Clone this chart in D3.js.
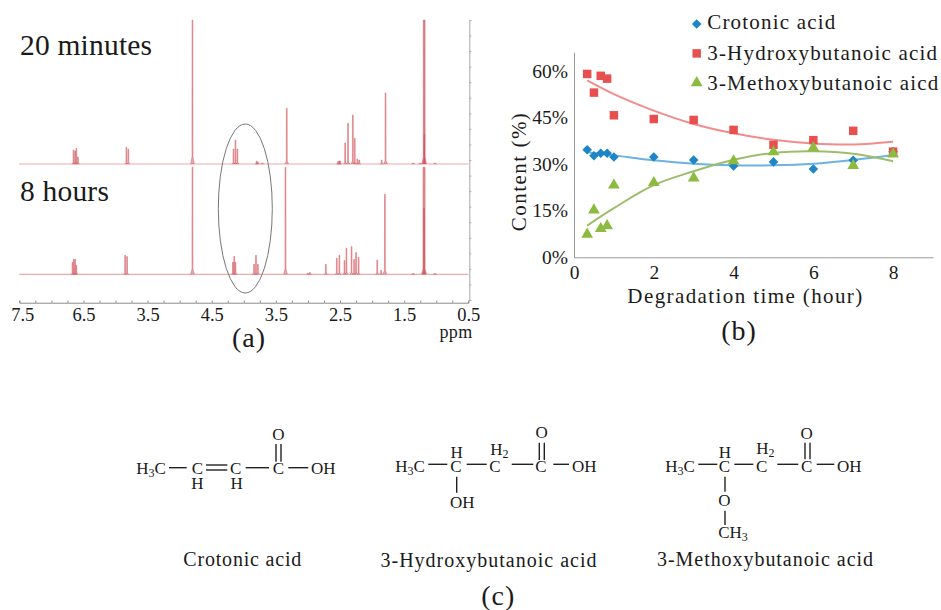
<!DOCTYPE html>
<html>
<head>
<meta charset="utf-8">
<script src="https://cdn.jsdelivr.net/npm/d3@7"></script>
<style>
  html, body { margin: 0; padding: 0; background: #fff; }
  text { font-family: "Liberation Serif", serif; fill: #1a1a1a; }
</style>
</head>
<body>
<div id="chart"></div>
<script>
// (a) NMR peaks: [ppm, height]
var peaksTop = [[6.655,14],[6.63,13],[6.61,15.7],[6.585,7],[5.83,16.7],[5.80,14.7],[4.80,144],
    [4.16,15],[4.13,24],[4.10,15],[3.80,3],[3.78,2],[3.71,1],[3.33,55.7],[2.53,2.5],[2.51,3],[2.50,3],
    [2.42,21],[2.375,40.7],[2.30,49],[2.27,25.7],[2.23,5],[2.20,4],[1.85,4],[1.79,71],
    [1.36,1],[1.25,1],[1.195,144],[1.185,30],[1.18,144],[1.02,1]];
var peaksBottom = [[6.67,12],[6.65,15],[6.63,15],[6.61,9],[5.85,19],[5.82,17.7],[4.80,107],
    [4.17,12],[4.15,18],[4.13,12],[3.84,10],[3.81,19],[3.78,10],[3.35,107],[3.00,1],[2.97,2],
    [2.72,10],[2.55,16],[2.51,19],[2.43,13.7],[2.40,26],[2.32,27.7],[2.28,15],[2.25,21.7],[2.21,17],
    [1.92,14.3],[1.86,4],[1.80,80],[1.36,1],[1.20,107],[1.19,66],[1.18,107],[1.02,1]];
var ppmTicks = [7.5, 6.5, 5.5, 4.5, 3.5, 2.5, 1.5, 0.5];
var ppmLabels = ["7.5", "6.5", "3.5", "4.5", "3.5", "2.5", "1.5", "0.5"];

// (b) degradation data
var hours = [0.33, 0.5, 0.67, 0.83, 1, 2, 3, 4, 5, 6, 7, 8];
var crotonic = [34.6, 32.7, 33.5, 33.5, 32.3, 32.3, 31.3, 29.4, 30.7, 28.4, 31.2, 34];
var hydroxy = [59, 53, 58.4, 57.5, 45.7, 44.5, 44.2, 41, 36.2, 37.7, 40.7, 34];
var methoxy = [7.4, 15.2, 9.2, 10.1, 23.2, 24, 25.5, 31, 33.9, 35.2, 29.5, 33.2];

// trend lines
var trendHours = [0.33, 1, 2, 3, 4, 5, 6, 7, 8];
var crotonicTrend = [33.8, 32.8, 31.2, 30.1, 29.6, 29.6, 30.1, 31.3, 32.9];
var hydroxyTrend = [56.9, 52.5, 47.2, 42.9, 39.9, 37.8, 36.6, 36.3, 37.2];
var methoxyTrend = [10.2, 15.8, 23.2, 27.7, 31.4, 33.6, 34.1, 33.3, 30.9];
var seriesNames = ["Crotonic acid", "3-Hydroxybutanoic acid", "3-Methoxybutanoic aicd"];

var svg = d3.select("#chart").append("svg")
    .attr("width", 941)
    .attr("height", 610)
    .style("display", "block");

// ---------- (a) spectra ----------
var ppm = d3.scaleLinear().domain([7.5, 0.5]).range([19.3, 468.3]);
var rightAxisY = d3.scaleLinear().domain([0, 18]).range([300, 20]);

svg.append("g")
    .attr("transform", "translate(0,302.7)")
    .call(d3.axisBottom(ppm).tickValues(d3.range(0.5, 7.51, 0.25)).tickSize(-2).tickFormat(""))
    .call(g => g.selectAll("path,line").attr("stroke", "#8a8a8a"));

svg.append("g")
    .attr("transform", "translate(469.3,0)")
    .call(d3.axisRight(rightAxisY).ticks(18).tickSize(2).tickFormat(""))
    .call(g => g.selectAll("path,line").attr("stroke", "#a8a8a8"));

svg.selectAll(null)
    .data(ppmTicks)
    .enter()
    .append("text")
    .attr("x", d => ppm(d) + (d == 7.5 ? 3.5 : 0.5))
    .attr("y", 320.7)
    .attr("text-anchor", "middle")
    .attr("font-size", "18.5px")
    .text((d, i) => ppmLabels[i]);

// one peak: foot, shoulder, tip, shoulder, foot
function peakPath(baseY) {
    var line = d3.line().x(d => ppm(d[0])).y(d => baseY - d[1]);
    return function(p) {
        var w = 0.028;
        return line([[p[0] + w, 0], [p[0] + w / 4, p[1] * 0.05], [p[0] + 0.006, p[1]], [p[0] - 0.006, p[1]], [p[0] - w / 4, p[1] * 0.05], [p[0] - w, 0]]);
    };
}

function drawSpectrum(peaks, baseY) {
    var group = svg.append("g");
    group.append("line")
        .attr("x1", ppm(7.5))
        .attr("x2", ppm(0.5))
        .attr("y1", baseY)
        .attr("y2", baseY)
        .attr("stroke", "#eeaaab")
        .attr("stroke-width", 1.2);
    group.selectAll("path")
        .data(peaks)
        .enter()
        .append("path")
        .attr("d", peakPath(baseY))
        .attr("fill", "#c8414a")
        .attr("fill-opacity", 0.45)
        .attr("stroke", "#d0545a")
        .attr("stroke-opacity", 0.6)
        .attr("stroke-width", 0.8);
}

drawSpectrum(peaksTop, 164);
drawSpectrum(peaksBottom, 274.3);

svg.append("ellipse")
    .attr("cx", 245.3)
    .attr("cy", 208.5)
    .attr("rx", 27)
    .attr("ry", 84.5)
    .attr("fill", "none")
    .attr("stroke", "#777")
    .attr("stroke-width", 1);

// text labels for all panels
var labels = [
    { t: "20 minutes", x: 20, y: 55, size: 29.5, ls: 0.2, anchor: "start" },
    { t: "8 hours", x: 20, y: 200.7, size: 29.5, ls: 0.2, anchor: "start" },
    { t: "ppm", x: 456, y: 337.5, size: 18, ls: 0.3, anchor: "middle" },
    { t: "(a)", x: 249, y: 347, size: 28, ls: 1, anchor: "middle" },
    { t: "(b)", x: 739, y: 340, size: 28, ls: 1, anchor: "middle" },
    { t: "(c)", x: 498.3, y: 605, size: 28, ls: 1, anchor: "middle" },
    { t: "Degradation time (hour)", x: 745.5, y: 303, size: 21, ls: 1.4, anchor: "middle" },
    { t: "Crotonic acid", x: 242.7, y: 566, size: 20, ls: 0.8, anchor: "middle" },
    { t: "3-Hydroxybutanoic acid", x: 489, y: 566.5, size: 20, ls: 1, anchor: "middle" },
    { t: "3-Methoxybutanoic acid", x: 765.5, y: 566, size: 20, ls: 0.95, anchor: "middle" }
];

svg.selectAll(null)
    .data(labels)
    .enter()
    .append("text")
    .attr("x", d => d.x)
    .attr("y", d => d.y)
    .attr("font-size", d => d.size + "px")
    .attr("letter-spacing", d => d.ls)
    .attr("text-anchor", d => d.anchor)
    .text(d => d.t);

// ---------- (b) scatter ----------
var xScale = d3.scaleLinear().domain([0, 9]).range([574, 933]);
var yScale = d3.scaleLinear().domain([0, 66]).range([257.3, 52.2]);

var colors = ["#1e85c6", "#e8504f", "#8cbb3f"];
var lineColors = ["#6cb2e2", "#f28d8b", "#9dbd6c"];
var symbols = [d3.symbolSquare, d3.symbolSquare, d3.symbolTriangle];
var sizes = [46, 72, 60];
var turns = [45, 0, 0];

var bottomAxis = d3.axisBottom(xScale).tickValues([0, 2, 4, 6, 8]).tickSize(0).tickPadding(8);
var leftAxis = d3.axisLeft(yScale).tickValues([0, 15, 30, 45, 60]).tickSize(0).tickPadding(6)
    .tickFormat(d => d + "%");

svg.append("g")
    .attr("transform", "translate(0,257.3)")
    .call(bottomAxis)
    .call(g => g.selectAll("text").attr("font-size", "19.5px").attr("font-family", "Liberation Serif").attr("fill", "#1a1a1a"))
    .call(g => g.select("path").attr("stroke", "#999"));

svg.append("g")
    .attr("transform", "translate(574,0)")
    .call(leftAxis)
    .call(g => g.selectAll("text").attr("font-size", "19.5px").attr("font-family", "Liberation Serif").attr("fill", "#1a1a1a"))
    .call(g => g.select("path").attr("stroke", "#999"));

svg.append("text")
    .attr("transform", "translate(526,171.5) rotate(-90)")
    .attr("text-anchor", "middle")
    .attr("font-size", "21px")
    .attr("letter-spacing", 1.5)
    .text("Content (%)");

var trendLine = d3.line()
    .x((d, i) => xScale(trendHours[i]))
    .y(d => yScale(d))
    .curve(d3.curveCatmullRom);

[crotonicTrend, hydroxyTrend, methoxyTrend].forEach(function(trend, s) {
    svg.append("path")
        .attr("d", trendLine(trend))
        .attr("fill", "none")
        .attr("stroke", lineColors[s])
        .attr("stroke-width", 2);
});

[crotonic, hydroxy, methoxy].forEach(function(values, s) {
    svg.append("g").selectAll("path")
        .data(values)
        .enter()
        .append("path")
        .attr("d", d3.symbol().type(symbols[s]).size(sizes[s]))
        .attr("transform", (d, i) => `translate(${xScale(hours[i])},${yScale(d)}) rotate(${turns[s]})`)
        .attr("fill", colors[s]);
});

// legend
var legend = svg.append("g").selectAll("g")
    .data(seriesNames)
    .enter()
    .append("g")
    .attr("transform", (d, i) => `translate(696.7,${24 + i * 29.4})`);

legend.append("path")
    .attr("d", (d, i) => d3.symbol().type(symbols[i]).size(sizes[i])())
    .attr("transform", (d, i) => `rotate(${turns[i]})`)
    .attr("fill", (d, i) => colors[i]);

legend.append("text")
    .attr("x", 10.5)
    .attr("y", (d, i) => [4.5, 6.5, 7.5][i])
    .attr("font-size", "21px")
    .attr("letter-spacing", 1.2)
    .text(d => d);

// ---------- (c) structures ----------
// each atom is one text; stacked groups such as H over C are lines of it: [text, x, y]
var atoms = [
    [["H3C", 151, 474]],
    [["C", 197.3, 474], ["H", 197.3, 489]],
    [["C", 235.7, 474], ["H", 236.7, 489]],
    [["O", 278.3, 440]],
    [["C", 278.3, 474]],
    [["OH", 323.3, 474]],
    [["H3C", 410, 472.3]],
    [["H", 456.7, 457.7], ["C", 456, 472.3]],
    [["OH", 462.3, 507.7]],
    [["H2", 499.3, 455], ["C", 495, 472.3]],
    [["O", 541.7, 438.3]],
    [["C", 541, 472.3]],
    [["OH", 584.3, 472.3]],
    [["H3C", 680, 472.3]],
    [["H", 725, 457.7], ["C", 724.3, 472.3]],
    [["O", 724.3, 506]],
    [["CH3", 733, 538.3]],
    [["H2", 765.3, 454.3], ["C", 761.7, 472.3]],
    [["O", 806.7, 439.3]],
    [["C", 806.7, 472.3]],
    [["OH", 849.3, 472.3]]
];
var bonds = [
    [169, 467.7, 186.7, 467.7], [206, 465, 227.3, 465], [206, 470, 227.3, 470], [245.7, 467.7, 269, 467.7],
    [276, 444, 276, 461.7], [281, 444, 281, 461.7], [288.3, 467.7, 308.3, 467.7],
    [428.3, 464.3, 447.3, 464.3], [456.7, 476.7, 456.7, 492.7], [466.7, 464.3, 486.7, 464.3],
    [511.7, 464.3, 533.3, 464.3], [539.3, 442.7, 539.3, 460], [544.3, 442.7, 544.3, 460], [553.3, 464.3, 569, 464.3],
    [698.3, 464.3, 717.3, 464.3], [725, 476.7, 725, 491.7], [725, 510.7, 725, 525], [734.3, 464.3, 753.3, 464.3],
    [777.3, 464.3, 798.3, 464.3], [805, 442.7, 805, 459.3], [810, 442.7, 810, 459.3], [816.7, 464.3, 834.3, 464.3]
];

svg.append("g").selectAll("line")
    .data(bonds)
    .enter()
    .append("line")
    .attr("x1", d => d[0])
    .attr("y1", d => d[1])
    .attr("x2", d => d[2])
    .attr("y2", d => d[3])
    .attr("stroke", "#222")
    .attr("stroke-width", 1.4);

var atomText = svg.append("g").selectAll("text")
    .data(atoms)
    .enter()
    .append("text")
    .attr("font-size", "17px");

// digits in formulas go down as subscripts
atomText.each(function(lines) {
    var node = d3.select(this);
    lines.forEach(function(line) {
        var row = node.append("tspan")
            .attr("x", line[1])
            .attr("y", line[2])
            .attr("text-anchor", "middle");
        line[0].split(/(\d)/).filter(s => s.length).forEach(function(part) {
            var isDigit = /\d/.test(part);
            row.append("tspan")
                .attr("font-size", isDigit ? "12px" : "17px")
                .attr("baseline-shift", isDigit ? "-25%" : null)
                .text(part);
        });
    });
});
</script>
</body>
</html>
